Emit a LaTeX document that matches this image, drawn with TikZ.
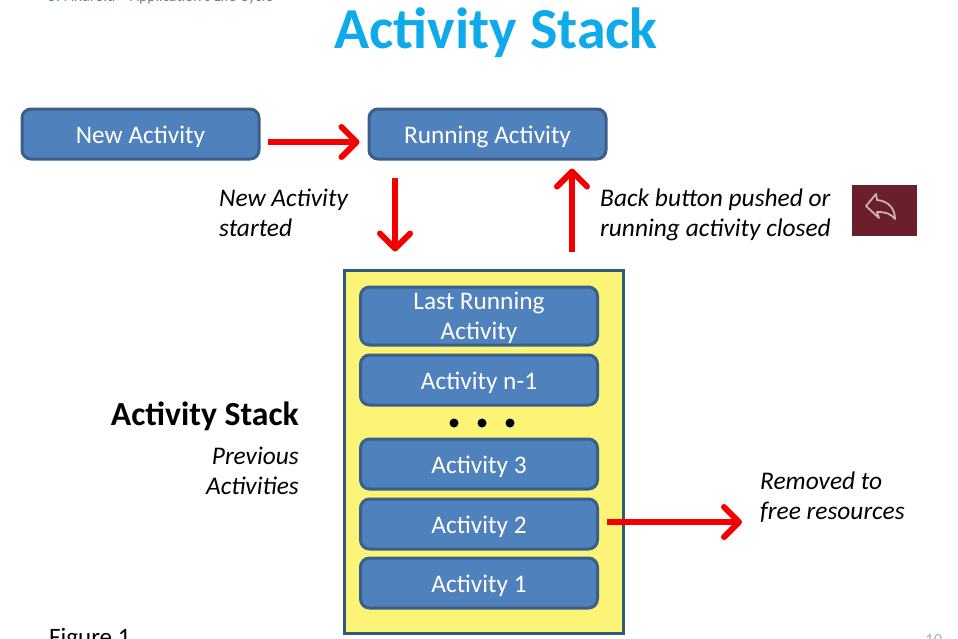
\documentclass[tikz,border=0pt]{standalone}
\usepackage{fontspec}
\setmainfont{Carlito}
\usepackage{xcolor}
\usetikzlibrary{arrows.meta, positioning}
\definecolor{azul}{HTML}{4F81BD}
\definecolor{azuloscuro}{HTML}{3A5F8A}
\definecolor{borde}{HTML}{2F5A7A}
\definecolor{amarillo}{HTML}{FBF477}
\definecolor{celeste}{HTML}{0FAAEA}
\definecolor{rojo}{HTML}{F50000}
\definecolor{vino}{HTML}{6B1F2A}
\definecolor{gris}{HTML}{5F86A8}
\tikzset{
  caja/.style={draw=azuloscuro, fill=azul, text=white, line width=3pt, rounded corners=9pt,
               minimum width=237pt, minimum height=50pt, align=center, inner sep=0pt,
               text height=24pt, text depth=6pt, font=\fontsize{25.3}{30}\selectfont},
  pila/.style={draw=borde, fill=amarillo, line width=3pt, minimum width=279pt, minimum height=363pt},
  flecha/.style={-{Straight Barb[round, length=15pt, width=30pt]}, line width=6pt, rojo},
  nota/.style={font=\itshape\fontsize{25.4}{30}\selectfont, inner sep=0pt, text=black},
  punto/.style={circle, fill=black, inner sep=0pt, minimum size=9pt},
}
\begin{document}
\begin{tikzpicture}[x=1pt, y=-1pt]
  \useasboundingbox (0,0) rectangle (958,638);
  \clip (0,0) rectangle (958,638);
  % slide text cut by the frame
  \node[anchor=base west, inner sep=0pt, text=gris, font=\fontsize{15.6}{18}\selectfont] (tema) at (48,1) {5. Android -- Application's Life Cycle};
  \node[inner sep=0pt, text=celeste, font=\bfseries\fontsize{58}{60}\selectfont] (titulo) at (496,33) {Activity Stack};
  \node[caja] (New) at (140.5,134) {New Activity};
  \node[caja] (Run) at (487.5,134) {Running Activity};
  \node[pila] (Stack) at (483.5,451.5) {};
  \node[caja, minimum height=58pt, text height=52pt, text depth=6pt] (Last) at (479,316) {Last Running\\Activity};
  \node[caja] (Nm) at (479,380) {Activity n-1};
  \foreach \x/\nombre in {454/a, 482/b, 510/c}
    \node[punto] (dot\nombre) at (\x,423) {};
  \node[caja] (A3) at (479,464) {Activity 3};
  \node[caja] (A2) at (479,524) {Activity 2};
  \node[caja] (A1) at (479,583) {Activity 1};
  \node[nota, align=left, anchor=west] (started) at (219,213) {New Activity\\started};
  \node[nota, align=left, anchor=west] (back) at (600,215) {Back button pushed or\\running activity closed};
  \node[nota, align=left, anchor=west] (removed) at (760,497) {Removed to\\free resources};
  \node[anchor=east, inner sep=0pt, font=\bfseries\fontsize{33.7}{36}\selectfont] (pilatxt) at (299,416) {Activity Stack};
  \node[nota, align=right, anchor=east] (prev) at (299,471) {Previous\\Activities};
  \node[anchor=west, inner sep=0pt, font=\fontsize{25}{30}\selectfont] (fig) at (49,639) {Figure 1};
  \node[anchor=west, inner sep=0pt, text=gris!60, font=\fontsize{17}{20}\selectfont] (num) at (925,640) {10};
  % back icon
  \node[fill=vino, minimum width=65pt, minimum height=51pt, inner sep=0pt] (icono) at (884.5,210.5) {};
  \draw[draw=vino!35!white, line width=1.8pt, line join=round]
    (866,206) -- (876,194) -- (877,200) .. controls (888,201) and (895,208) .. (895,219)
    .. controls (890,213) and (885,212) .. (877,212) -- (879,218) -- cycle;
  % arrows
  \coordinate (fin) at (742,522);
  \draw[flecha, shorten <=7pt, shorten >=8pt] ([yshift=-8pt]New.east) -- ([yshift=-8pt]Run.west);
  \draw[flecha, shorten <=17pt, shorten >=17pt] ([xshift=-92.5pt]Run.south) -- ([xshift=-88.5pt]Stack.north);
  \draw[flecha, shorten <=17pt, shorten >=8pt] ([xshift=88.5pt]Stack.north) -- ([xshift=84.5pt]Run.south);
  \draw[flecha, shorten <=8pt] ([yshift=2pt]A2.east) -- (fin);
\end{tikzpicture}
\end{document}
